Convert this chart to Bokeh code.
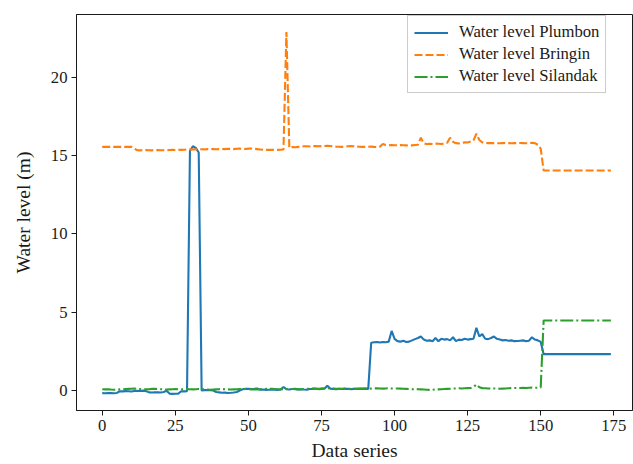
from bokeh.plotting import figure
from bokeh.models import Legend, LegendItem, FixedTicker, Range1d
from bokeh.embed import file_html
from bokeh.resources import INLINE

series_index = list(range(175))

plumbon = [
    -0.17, -0.18, -0.16, -0.17, -0.18, -0.16,
    -0.05, -0.06, -0.04, -0.05, -0.07, -0.03,
    -0.02, -0.03, -0.01, -0.04,
    -0.12, -0.13, -0.12, -0.11, -0.13, -0.10,
    -0.02,
    -0.20, -0.22, -0.21, -0.20,
    -0.05, -0.06, -0.04,
    15.30, 15.60, 15.50, 15.20,
    0.00, 0.02, 0.03, 0.01, 0.00,
    -0.10, -0.12, -0.15, -0.14, -0.16, -0.15, -0.13, -0.10,
    0.00,
    0.08, 0.10, 0.11, 0.09, 0.10, 0.12,
    0.05, 0.06, 0.04, 0.05, 0.07, 0.05, 0.04, 0.06,
    0.22,
    0.08, 0.06, 0.09, 0.10, 0.07, 0.08, 0.06, 0.05, 0.09, 0.10, 0.12, 0.08, 0.10, 0.11,
    0.30,
    0.12, 0.10, 0.08, 0.10, 0.09, 0.10, 0.11, 0.08, 0.10, 0.09, 0.11, 0.10, 0.12, 0.10,
    3.05, 3.08, 3.10, 3.06, 3.10, 3.08, 3.12,
    3.80,
    3.30,
    3.15, 3.12, 3.18, 3.10, 3.12, 3.20, 3.28, 3.35,
    3.45,
    3.25, 3.18, 3.20, 3.15,
    3.35,
    3.15,
    3.30, 3.25, 3.28,
    3.20,
    3.40,
    3.15,
    3.25, 3.22, 3.30, 3.25, 3.28, 3.30,
    4.00,
    3.45,
    3.60,
    3.30, 3.28, 3.35, 3.45, 3.30,
    3.25, 3.20, 3.22, 3.18, 3.20, 3.15, 3.16, 3.18, 3.20, 3.15, 3.18,
    3.40,
    3.25, 3.20, 3.10,
    2.32, 2.32, 2.32, 2.32, 2.32, 2.32, 2.32, 2.32, 2.32, 2.32, 2.32, 2.32,
    2.32, 2.32, 2.32, 2.32, 2.32, 2.32, 2.32, 2.32, 2.32, 2.32, 2.32, 2.32,
]

bringin = [
    15.56, 15.56, 15.56, 15.56, 15.56, 15.56, 15.56, 15.56, 15.56, 15.56, 15.56,
    15.45,
    15.35, 15.34, 15.35, 15.36, 15.35, 15.34, 15.35, 15.36, 15.35, 15.35, 15.34, 15.36,
    15.37, 15.36, 15.38, 15.37, 15.38, 15.40,
    15.40, 15.41, 15.40, 15.42, 15.41, 15.40, 15.42, 15.43, 15.42, 15.41, 15.42, 15.43,
    15.42, 15.44, 15.43, 15.42, 15.44, 15.45, 15.44, 15.43, 15.45, 15.46, 15.44, 15.42,
    15.40, 15.38, 15.37, 15.38, 15.37, 15.38, 15.37,
    15.38, 15.40,
    22.90,
    15.50,
    15.55, 15.54, 15.56, 15.58, 15.60, 15.60, 15.59, 15.61, 15.62, 15.60, 15.61, 15.62,
    15.63, 15.62, 15.60, 15.58, 15.57, 15.56, 15.58, 15.60, 15.61, 15.60, 15.58, 15.57,
    15.56, 15.56, 15.57, 15.58, 15.56, 15.55, 15.58,
    15.75,
    15.68, 15.66, 15.68, 15.67, 15.66, 15.68, 15.67, 15.66, 15.65, 15.66, 15.68, 15.70,
    16.15,
    15.78, 15.75, 15.76, 15.75, 15.77, 15.76, 15.75, 15.78, 15.82,
    16.15,
    15.88,
    15.80, 15.78, 15.82, 15.85, 15.84, 15.90, 15.98,
    16.40,
    16.00,
    15.85, 15.82, 15.80, 15.81, 15.80, 15.80, 15.79, 15.80, 15.81, 15.80, 15.79, 15.80,
    15.80, 15.81, 15.80, 15.79, 15.80, 15.82,
    15.80, 15.70, 15.45,
    14.05, 14.05, 14.05, 14.05, 14.05, 14.05, 14.05, 14.05, 14.05, 14.05, 14.05, 14.05,
    14.05, 14.05, 14.05, 14.05, 14.05, 14.05, 14.05, 14.05, 14.05, 14.05, 14.05, 14.05,
]

silandak = [
    0.08, 0.07, 0.08, 0.06, 0.05, 0.06, 0.07, 0.08, 0.09, 0.10,
    0.11, 0.12, 0.10, 0.09, 0.08, 0.07, 0.08, 0.10, 0.11, 0.09,
    0.08, 0.07, 0.06, 0.07, 0.08, 0.09, 0.08, 0.07, 0.08, 0.09,
    0.08, 0.07, 0.08, 0.09, 0.08, 0.07, 0.06, 0.05, 0.06, 0.07,
    0.08, 0.09, 0.08, 0.07, 0.06, 0.07, 0.08, 0.09, 0.10, 0.09,
    0.08, 0.07, 0.06, 0.07, 0.08, 0.09, 0.10, 0.11, 0.10, 0.09,
    0.08, 0.07, 0.08, 0.09, 0.10, 0.09, 0.08, 0.07, 0.08, 0.09,
    0.10, 0.11, 0.12, 0.11, 0.10, 0.12, 0.14, 0.15, 0.13, 0.12,
    0.11, 0.10, 0.11, 0.12, 0.11, 0.10, 0.11, 0.12, 0.13, 0.12,
    0.12, 0.13, 0.12, 0.13, 0.14, 0.13, 0.12, 0.13, 0.14, 0.13,
    0.12, 0.13, 0.12, 0.11, 0.10, 0.09, 0.08, 0.09, 0.08, 0.07,
    0.06, 0.05, 0.04, 0.05, 0.06, 0.07, 0.08, 0.09, 0.10, 0.11,
    0.12, 0.13, 0.14, 0.13, 0.14, 0.15, 0.16, 0.22, 0.38, 0.20,
    0.15, 0.14, 0.13, 0.12, 0.13, 0.12, 0.11, 0.12, 0.13, 0.14,
    0.15, 0.16, 0.15, 0.16, 0.17, 0.16, 0.17, 0.18, 0.17, 0.18, 0.20,
    4.47, 4.47, 4.47, 4.47, 4.47, 4.47, 4.47, 4.47, 4.47, 4.47, 4.47, 4.47,
    4.47, 4.47, 4.47, 4.47, 4.47, 4.47, 4.47, 4.47, 4.47, 4.47, 4.47, 4.47,
]

x_ticks = [0, 25, 50, 75, 100, 125, 150, 175]
y_ticks = [0, 5, 10, 15, 20]
labels = ["Water level Plumbon", "Water level Bringin", "Water level Silandak"]
colors = ["#1f77b4", "#ff7f0e", "#2ca02c"]
dashes = ["solid", "8 3", "13 3 2 3"]

FONT = "Liberation Serif"
INK = "#1a1a1a"

p = figure(width=633, height=464, output_backend="svg", toolbar_location=None,
           x_range=Range1d(-8.81, 181.4), y_range=Range1d(-1.28, 24.02),
           min_border_left=76, min_border_top=14, min_border_right=1, min_border_bottom=54,
           background_fill_color="white", border_fill_color="white")

renderers = []
for ys, c, d in zip([plumbon, bringin, silandak], colors, dashes):
    r = p.line(series_index, ys, line_color=c, line_width=2.1, line_dash=d)
    renderers.append(r)

legend = Legend(items=[LegendItem(label=l, renderers=[r]) for l, r in zip(labels, renderers)],
                location=(331, 317))
legend.label_text_font = FONT
legend.label_text_font_size = "16.7px"
legend.label_text_color = INK
legend.border_line_color = "#999999"
legend.border_line_width = 1
legend.background_fill_color = "white"
legend.background_fill_alpha = 1.0
legend.padding = 6
legend.spacing = 2
legend.label_height = 19
legend.glyph_height = 19
legend.glyph_width = 34
legend.label_standoff = 11
legend.margin = 0
p.add_layout(legend)

p.xgrid.visible = False
p.ygrid.visible = False
p.outline_line_color = INK
p.outline_line_width = 1

for ax in (p.xaxis[0], p.yaxis[0]):
    ax.major_label_text_font = FONT
    ax.major_label_text_font_size = "16.7px"
    ax.major_label_text_color = INK
    ax.axis_label_text_font = FONT
    ax.axis_label_text_font_size = "19.5px"
    ax.axis_label_text_font_style = "normal"
    ax.axis_label_text_color = INK
    ax.axis_line_color = INK
    ax.major_tick_line_color = INK
    ax.major_tick_out = 5
    ax.major_tick_in = 0
    ax.minor_tick_line_color = None
    ax.major_label_standoff = 4

p.xaxis.ticker = FixedTicker(ticks=x_ticks)
p.yaxis.ticker = FixedTicker(ticks=y_ticks)
p.xaxis.axis_label = "Data series"
p.yaxis.axis_label = "Water level (m)"
p.xaxis.axis_label_standoff = 6
p.yaxis.axis_label_standoff = 14

open("out.html", "w").write(file_html(p, INLINE))
